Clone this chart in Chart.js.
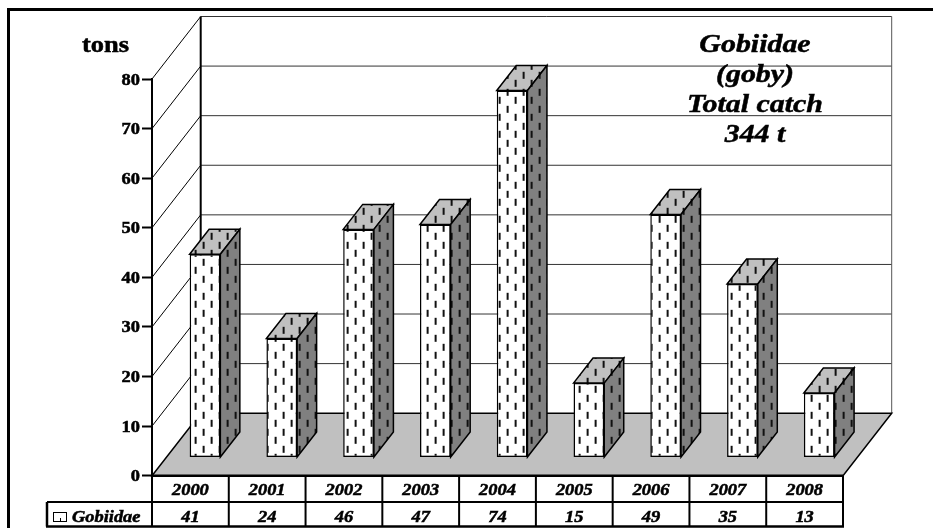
<!DOCTYPE html>
<html>
<head>
<meta charset="utf-8">
<title>Gobiidae catch</title>
<script src="https://cdn.jsdelivr.net/npm/chart.js@4"></script>
<style>
    html, body { margin: 0; padding: 0; background: #fff; }
    canvas { display: block; }
</style>
</head>
<body>
<canvas id="catchChart" width="933" height="528"></canvas>
<script>
const years = ['2000', '2001', '2002', '2003', '2004', '2005', '2006', '2007', '2008'];
const gobiidaeCatch = [41, 24, 46, 47, 74, 15, 49, 35, 13];
const seriesName = 'Gobiidae';
const unitLabel = 'tons';
const noteLines = ['Gobiidae', '(goby)', 'Total catch', '344 t'];

const SERIF = '"Liberation Serif", "Times New Roman", serif';
const TEXT_STRETCH = 1.15;

// Oblique projection offsets for the box
const WALL_DX = 48.7, WALL_DY = 62.5;
const BAR_SHIFT_DX = 14.6, BAR_SHIFT_DY = 18.2;
const BAR_DEPTH_DX = 19.5, BAR_DEPTH_DY = 25;

// Dashed fill used on all three faces of a bar
function dashPattern(base) {
    const tile = document.createElement('canvas');
    tile.width = 16;
    tile.height = 17;
    const t = tile.getContext('2d');
    t.fillStyle = base;
    t.fillRect(0, 0, 16, 17);
    t.fillStyle = '#111';
    t.fillRect(12, 5, 2, 7);
    t.fillRect(4, 13, 2, 4);
    t.fillRect(4, 0, 2, 3);
    return document.getElementById('catchChart').getContext('2d').createPattern(tile, 'repeat');
}

const frontFill = dashPattern('#ffffff');
const sideFill = dashPattern('#808080');
const topFill = dashPattern('#c0c0c0');

function line(ctx, x1, y1, x2, y2, color, width) {
    ctx.strokeStyle = color;
    ctx.lineWidth = width;
    ctx.beginPath();
    ctx.moveTo(x1, y1);
    ctx.lineTo(x2, y2);
    ctx.stroke();
}

function polygon(ctx, pts, fill) {
    ctx.beginPath();
    pts.forEach((p, i) => i ? ctx.lineTo(p[0], p[1]) : ctx.moveTo(p[0], p[1]));
    ctx.closePath();
    ctx.fillStyle = fill;
    ctx.fill();
    ctx.strokeStyle = '#000';
    ctx.lineWidth = 1.5;
    ctx.stroke();
}

// The labels are set wider and a little heavier than the face's natural proportions
function wideText(ctx, text, x, y, align) {
    const w = ctx.measureText(text).width * TEXT_STRETCH;
    const left = align === 'center' ? x - w / 2 : align === 'right' ? x - w : x;
    ctx.save();
    ctx.translate(left, y);
    ctx.scale(TEXT_STRETCH, 1);
    ctx.textAlign = 'left';
    ctx.textBaseline = 'alphabetic';
    ctx.fillText(text, 0, 0);
    ctx.strokeStyle = '#000';
    ctx.lineWidth = 0.5;
    ctx.strokeText(text, 0, 0);
    ctx.restore();
}

// Back wall, side wall, floor and the outer frame
const boxPlugin = {
    id: 'box',
    beforeDatasetsDraw(chart) {
        const { ctx, chartArea: a, scales: { y } } = chart;
        ctx.save();

        ctx.fillStyle = '#000';
        ctx.fillRect(7, 8, 926, 3);
        ctx.fillRect(7, 8, 3, 520);

        const backLeft = a.left + WALL_DX;
        const backRight = a.right + WALL_DX;

        y.ticks.forEach(t => {
            const py = y.getPixelForValue(t.value);
            if (t.value > 0) {
                line(ctx, a.left, py, backLeft, py - WALL_DY, '#000', 1);
                line(ctx, backLeft, py - WALL_DY, backRight, py - WALL_DY, '#333', 1);
            }
        });
        line(ctx, backRight, a.top - WALL_DY, backRight, a.bottom - WALL_DY, '#555', 1);

        polygon(ctx, [
            [a.left, a.bottom],
            [a.right, a.bottom],
            [backRight, a.bottom - WALL_DY],
            [backLeft, a.bottom - WALL_DY]
        ], '#c0c0c0');
        line(ctx, backLeft, a.top - WALL_DY, backLeft, a.bottom - WALL_DY, '#000', 2);

        // Top and side faces, then shift the canvas so the library's bars land mid-floor
        const meta = chart.getDatasetMeta(0);
        ctx.translate(BAR_SHIFT_DX, -BAR_SHIFT_DY);
        meta.data.forEach(bar => {
            const r = bar.x + bar.width / 2;
            const l = bar.x - bar.width / 2;
            polygon(ctx, [
                [l, bar.y],
                [l + BAR_DEPTH_DX, bar.y - BAR_DEPTH_DY],
                [r + BAR_DEPTH_DX, bar.y - BAR_DEPTH_DY],
                [r, bar.y]
            ], topFill);
            polygon(ctx, [
                [r, bar.y],
                [r + BAR_DEPTH_DX, bar.y - BAR_DEPTH_DY],
                [r + BAR_DEPTH_DX, bar.base - BAR_DEPTH_DY],
                [r, bar.base]
            ], sideFill);
        });
    },
    afterDatasetsDraw(chart) {
        chart.ctx.restore();
    },
    afterDraw(chart) {
        const { ctx, chartArea: a, scales: { x, y } } = chart;
        const rowMid = 502, rowEnd = 526.5, legendLeft = 47;
        const colWidth = (a.right - a.left) / years.length;

        ctx.save();
        line(ctx, a.left, a.bottom, a.right, a.bottom, '#000', 2.5);
        line(ctx, legendLeft, rowMid, a.right, rowMid, '#000', 2);
        line(ctx, legendLeft - 1, rowEnd, a.right + 1, rowEnd, '#000', 2.5);
        line(ctx, legendLeft, rowMid, legendLeft, rowEnd, '#000', 2.5);
        for (let i = 0; i <= years.length; i++) {
            const cx = a.left + i * colWidth;
            line(ctx, cx, a.bottom, cx, rowEnd, '#000', 2);
        }

        ctx.fillStyle = '#000';

        // Axis numbers
        ctx.font = 'bold 16px ' + SERIF;
        y.ticks.forEach(t => {
            wideText(ctx, t.label, 140, y.getPixelForValue(t.value) + 5.5, 'right');
        });

        // Two table rows under the category axis
        ctx.font = 'italic bold 16px ' + SERIF;
        years.forEach((label, i) => {
            wideText(ctx, label, x.getPixelForValue(i), 495, 'center');
        });
        gobiidaeCatch.forEach((v, i) => {
            wideText(ctx, String(v), x.getPixelForValue(i), 521.5, 'center');
        });

        // Legend cell with its key
        wideText(ctx, seriesName, 72, 521.5, 'left');
        ctx.strokeStyle = '#000';
        ctx.lineWidth = 1;
        ctx.strokeRect(53.5, 512.5, 13, 9);
        ctx.fillRect(54, 521, 13, 1);
        ctx.fillRect(60, 518, 1, 3);

        ctx.font = 'bold 23px ' + SERIF;
        wideText(ctx, unitLabel, 82, 52, 'left');

        // Note in the upper right of the back wall
        ctx.font = 'italic bold 26px ' + SERIF;
        noteLines.forEach((t, i) => {
            wideText(ctx, t, 755, 52 + i * 30, 'center');
        });
        ctx.restore();
    }
};

new Chart(document.getElementById('catchChart'), {
    type: 'bar',
    data: {
        labels: years,
        datasets: [{
            label: seriesName,
            data: gobiidaeCatch,
            backgroundColor: frontFill,
            borderColor: '#000',
            borderWidth: 1.5,
            borderSkipped: false,
            barPercentage: 0.4,
            categoryPercentage: 1,
            clip: false
        }]
    },
    options: {
        responsive: false,
        animation: false,
        layout: { padding: { top: 79, right: 90, bottom: 0, left: 0 } },
        plugins: { legend: { display: false }, tooltip: { enabled: false } },
        scales: {
            x: {
                afterFit(scale) { scale.height = 52.3; },
                grid: { display: false },
                border: { display: false },
                ticks: { display: false }
            },
            y: {
                min: 0,
                max: 80,
                afterFit(scale) { scale.width = 152; },
                grid: { drawOnChartArea: false, tickLength: 10, tickColor: '#000', tickWidth: 2 },
                border: { color: '#000', width: 2 },
                ticks: { display: false, stepSize: 10 }
            }
        }
    },
    plugins: [boxPlugin]
});
</script>
</body>
</html>
